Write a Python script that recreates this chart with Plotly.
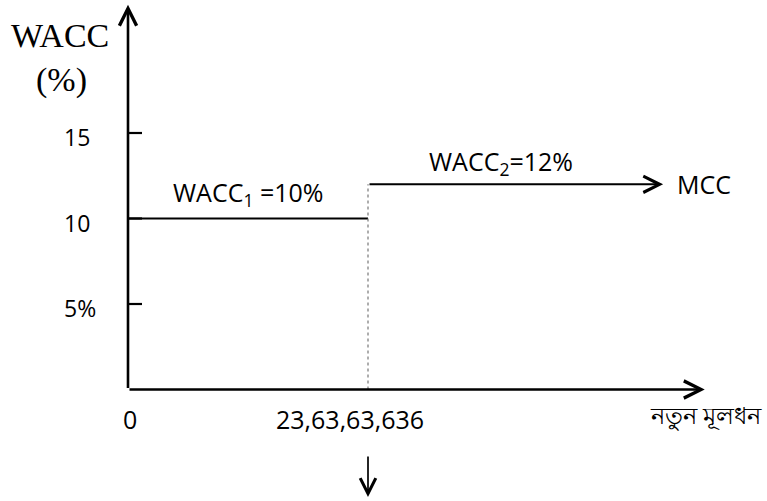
import plotly.graph_objects as go

# ---- data ----
breakpoint_value = 236363636          # 23,63,63,636
wacc_levels = [10, 12]                 # WACC1, WACC2 (%)
wacc_labels = ["WACC<sub>1</sub> =10%", "WACC<sub>2</sub>=12%"]
series_label = "MCC"
y_tick_values = [15, 10, 5]
y_tick_labels = ["15", "10", "5%"]
x_tick_values = [0, breakpoint_value]
x_tick_labels = ["0", "23,63,63,636"]
x_axis_title = "নতুন মূলধন"
y_axis_title = ["WACC", "(%)"]
x_axis_extent = 568000000
y_axis_extent = 22.5
mcc_extent = 527000000

# ---- layout mapping ----
W, H = 767, 501
X0_PX, BP_PX = 128, 368
Y0_PX, PX_PER_UNIT = 389.5, 17.1
x_per_px = breakpoint_value / (BP_PX - X0_PX)
x_range = [-X0_PX * x_per_px, (W - X0_PX) * x_per_px]
y_range = [-(H - Y0_PX) / PX_PER_UNIT, Y0_PX / PX_PER_UNIT]

def y_of_px(p):
    return (Y0_PX - p) / PX_PER_UNIT

SANS = "Open Sans, Liberation Sans, Arial, sans-serif"
SERIF = "Liberation Serif, Times New Roman, serif"
BLK = "#000000"
FS = 25

fig = go.Figure()

# WACC1 segment
fig.add_trace(go.Scatter(x=[0, breakpoint_value], y=[wacc_levels[0], wacc_levels[0]],
                         mode="lines", line=dict(color=BLK, width=2), hoverinfo="skip",
                         showlegend=False))
# dotted vertical at breakpoint
fig.add_trace(go.Scatter(x=[breakpoint_value, breakpoint_value], y=[0, wacc_levels[1]],
                         mode="lines", line=dict(color="#777777", width=1.2, dash="dot"),
                         hoverinfo="skip", showlegend=False))

annotations = []
def arrow(x, y, ax, ay, width=2, size=1.1, head=5, xref="x", yref="y"):
    annotations.append(dict(x=x, y=y, ax=ax, ay=ay, xref=xref, yref=yref,
                            axref=xref, ayref=yref, text="", showarrow=True,
                            arrowhead=head, arrowsize=size, arrowwidth=width,
                            arrowcolor=BLK, standoff=0, startstandoff=0))

# axes
arrow(x_axis_extent, 0, 0, 0, width=2.6, size=1.3)
arrow(0, y_axis_extent, 0, 0, width=2.6, size=1.3)
# WACC2 / MCC line
arrow(mcc_extent, wacc_levels[1], breakpoint_value, wacc_levels[1], width=2, size=1.6)
# down arrow below breakpoint
arrow(breakpoint_value, y_of_px(497), breakpoint_value, y_of_px(455), width=1.7, size=1.8)

shapes = []
for v, t in zip(y_tick_values, y_tick_labels):
    shapes.append(dict(type="line", xref="x", yref="y", xsizemode="pixel", xanchor=0,
                       x0=0, x1=14, y0=v, y1=v, line=dict(color=BLK, width=2.2)))
    annotations.append(dict(x=0, y=v, xref="x", yref="y", text=t, showarrow=False,
                            xanchor="left", xshift=-66, yshift=-4,
                            font=dict(family=SANS, size=FS - 2, color=BLK)))

for v, t, xs in zip(x_tick_values, x_tick_labels, [2, -18]):
    annotations.append(dict(x=v, y=0, xref="x", yref="y", text=t, showarrow=False,
                            xanchor="center", yanchor="middle", xshift=xs, yshift=-29,
                            font=dict(family=SANS, size=FS, color=BLK)))

# segment labels
annotations.append(dict(x=breakpoint_value / 2, y=wacc_levels[0], text=wacc_labels[0],
                        showarrow=False, yshift=25, xshift=0,
                        font=dict(family=SANS, size=FS, color=BLK)))
annotations.append(dict(x=(breakpoint_value + mcc_extent) / 2, y=wacc_levels[1],
                        text=wacc_labels[1], showarrow=False, yshift=22, xshift=-15,
                        font=dict(family=SANS, size=FS, color=BLK)))
annotations.append(dict(x=mcc_extent, y=wacc_levels[1], text=series_label,
                        showarrow=False, xanchor="left", xshift=12,
                        font=dict(family=SANS, size=FS, color=BLK)))

# axis titles
annotations.append(dict(x=x_axis_extent, y=0, text=x_axis_title, showarrow=False,
                        xanchor="center", yshift=-25, xshift=1,
                        font=dict(family="Noto Sans, " + SANS, size=24, color=BLK)))
for t, xs, ys in zip(y_axis_title, [-68, -67], [-31, -75]):
    annotations.append(dict(x=0, y=y_axis_extent, text=t, showarrow=False,
                            xanchor="center", yanchor="middle", xshift=xs, yshift=ys,
                            font=dict(family=SERIF, size=34, color=BLK)))

fig.update_layout(
    width=W, height=H, autosize=False,
    margin=dict(l=0, r=0, t=0, b=0),
    paper_bgcolor="white", plot_bgcolor="white",
    xaxis=dict(range=x_range, visible=False, fixedrange=True),
    yaxis=dict(range=y_range, visible=False, fixedrange=True),
    shapes=shapes, annotations=annotations, showlegend=False,
)

fig.write_html("out.html", config={"displayModeBar": False},
               post_script="document.body.style.margin='0';document.body.style.overflow='hidden';")
